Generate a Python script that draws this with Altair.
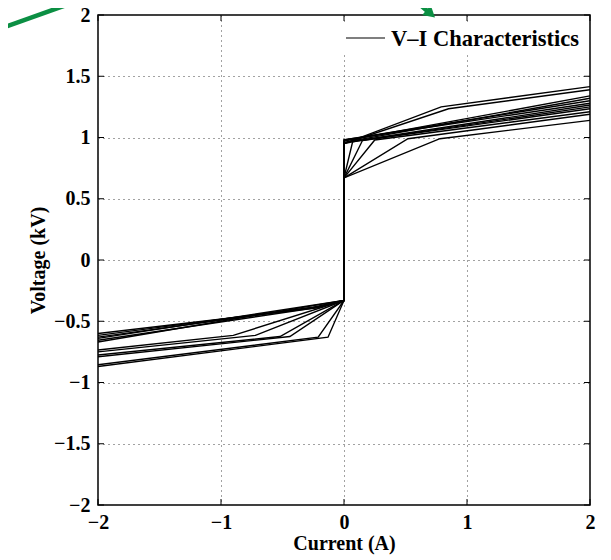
import altair as alt
import pandas as pd

# ---- data ----
# lower branch (negative current): end value at I=-2, knee current/voltage (None = straight)
neg_end_v = [-0.60, -0.615, -0.63, -0.655, -0.67, -0.64, -0.735, -0.75, -0.775, -0.79, -0.855, -0.87]
neg_knee_i = [-0.22, -0.25, -0.20, -0.23, None, None, -0.90, -0.72, -0.52, -0.44, -0.21, -0.13]
neg_knee_v = [-0.39, -0.385, -0.38, -0.39, None, None, -0.615, -0.615, -0.625, -0.625, -0.63, -0.63]
neg_zero_v = [-0.33] * 12
# upper branch (positive current): start at I=0, knee, end value at I=2
pos_start_v = [0.95, 0.95, 0.67, 0.67, 0.67, 0.67, 0.67, 0.95, 0.98, 0.98, 0.96, 0.97]
pos_knee_i = [0.79, 0.85, 0.78, 0.52, 0.25, 0.15, 0.07, 0.12, None, None, None, None]
pos_knee_v = [1.25, 1.235, 0.99, 0.99, 0.98, 0.975, 0.965, 0.975, None, None, None, None]
pos_end_v = [1.415, 1.39, 1.14, 1.19, 1.21, 1.235, 1.25, 1.265, 1.28, 1.30, 1.32, 1.34]

x_ticks = [-2, -1, 0, 1, 2]
y_ticks = [-2, -1.5, -1, -0.5, 0, 0.5, 1, 1.5, 2]

# green annotation arrows (fragments of the surrounding figure), data coordinates
arrow1_i = [-2.85, -2.12]
arrow1_v = [1.87, 2.13]
arrow2_i = [0.553, 0.680]
arrow2_v = [2.14, 2.03]
arrow2_tip_i = [0.705]
arrow2_tip_v = [2.01]

rows = []
for k in range(len(neg_end_v)):
    pts = [(-2.0, neg_end_v[k])]
    if neg_knee_i[k] is not None:
        pts.append((neg_knee_i[k], neg_knee_v[k]))
    pts.append((0.0, neg_zero_v[k]))
    pts.append((0.0, pos_start_v[k]))
    if pos_knee_i[k] is not None:
        pts.append((pos_knee_i[k], pos_knee_v[k]))
    pts.append((2.0, pos_end_v[k]))
    for j, (i_, v_) in enumerate(pts):
        rows.append({"curve": k, "idx": j, "I": i_, "V": v_})
df = pd.DataFrame(rows)

W, H = 492, 490
FONT = "Liberation Serif"

xs = alt.Scale(domain=[-2, 2], nice=False, zero=False)
ys = alt.Scale(domain=[-2, 2], nice=False, zero=False)

lines = alt.Chart(df).mark_line(color="black", strokeWidth=1.4, clip=True).encode(
    x=alt.X("I:Q", scale=xs, title="Current (A)",
            axis=alt.Axis(values=x_ticks, format="~g", labelFlush=False)),
    y=alt.Y("V:Q", scale=ys, title="Voltage (kV)",
            axis=alt.Axis(values=y_ticks, format="~g", labelFlush=False)),
    detail="curve:N",
    order="idx:Q",
)

# inward tick marks on all four sides
xt = pd.DataFrame({"t": x_ticks})
yt = pd.DataFrame({"t": y_ticks})
tick_w = 1
tb = alt.Chart(xt).mark_rule(color="black", strokeWidth=tick_w).encode(
    x=alt.X("t:Q", scale=xs), y=alt.value(H), y2=alt.value(H - 6))
tt = alt.Chart(xt).mark_rule(color="black", strokeWidth=tick_w).encode(
    x=alt.X("t:Q", scale=xs), y=alt.value(0), y2=alt.value(6))
tl = alt.Chart(yt).mark_rule(color="black", strokeWidth=tick_w).encode(
    y=alt.Y("t:Q", scale=ys), x=alt.value(0), x2=alt.value(6))
tr = alt.Chart(yt).mark_rule(color="black", strokeWidth=tick_w).encode(
    y=alt.Y("t:Q", scale=ys), x=alt.value(W), x2=alt.value(W - 6))

# legend
one = pd.DataFrame({"a": [0]})
leg_bg = alt.Chart(one).mark_rect(color="white").encode(
    x=alt.value(244), x2=alt.value(490), y=alt.value(10), y2=alt.value(38))
leg_line = alt.Chart(one).mark_rule(color="black", strokeWidth=1.2).encode(
    x=alt.value(248), x2=alt.value(287), y=alt.value(23))
leg_text = alt.Chart(one).mark_text(
    font=FONT, fontSize=22.5, fontWeight="bold", align="left", baseline="middle", color="black"
).encode(x=alt.value(293), y=alt.value(24), text=alt.value("V\u2013I Characteristics"))

# green arrows
GREEN = "#0b8f43"
a1 = alt.Chart(pd.DataFrame({"I": arrow1_i, "V": arrow1_v})).mark_line(
    color=GREEN, strokeWidth=4.5, clip=False).encode(
    x=alt.X("I:Q", scale=xs), y=alt.Y("V:Q", scale=ys))
a2 = alt.Chart(pd.DataFrame({"I": arrow2_i, "V": arrow2_v})).mark_line(
    color=GREEN, strokeWidth=4.5, clip=False).encode(
    x=alt.X("I:Q", scale=xs), y=alt.Y("V:Q", scale=ys))
a2h = alt.Chart(pd.DataFrame({"I": arrow2_tip_i, "V": arrow2_tip_v})).mark_point(
    shape="triangle-up", filled=True, color=GREEN, opacity=1, size=170, angle=131, clip=False).encode(
    x=alt.X("I:Q", scale=xs), y=alt.Y("V:Q", scale=ys))

chart = alt.layer(
    lines, leg_bg, leg_line, leg_text, tb, tt, tl, tr, a1, a2, a2h
).properties(
    width=W, height=H,
    autosize=alt.AutoSizeParams(type="none"),
    padding={"left": 90, "top": 7, "right": 13, "bottom": 52},
).configure_view(
    stroke="black", strokeWidth=1.5
).configure_axis(
    domain=False, ticks=False,
    labelFont=FONT, labelFontSize=20, labelFontWeight="bold", labelColor="black",
    titleFont=FONT, titleFontSize=20, titleFontWeight="bold", titleColor="black",
    grid=True, gridColor="#444", gridDash=[1, 4], gridWidth=1, gridOpacity=1,
).configure_axisX(
    labelPadding=7, titlePadding=1,
).configure_axisY(
    labelPadding=8, titlePadding=5,
)

chart.save("out.html", embed_options={"renderer": "svg", "actions": False})
